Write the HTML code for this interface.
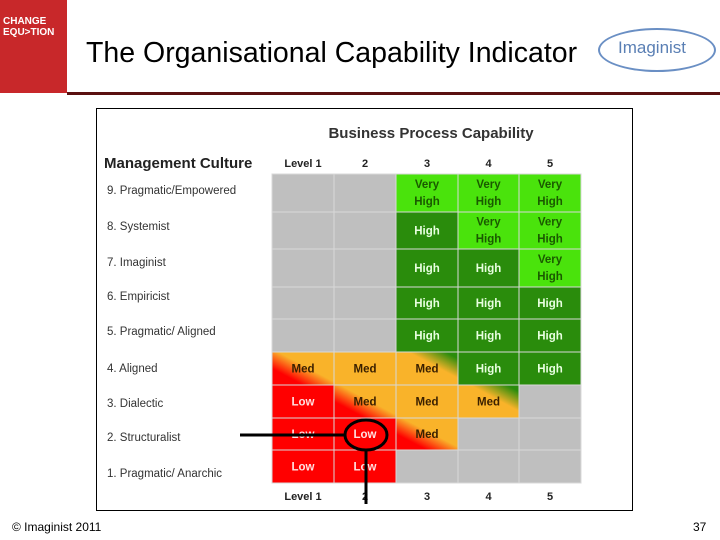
<!DOCTYPE html>
<html><head><meta charset="utf-8"><style>
body{margin:0;width:720px;height:540px;background:#fff;position:relative;overflow:hidden;font-family:"Liberation Sans",sans-serif}
.abs{position:absolute}
</style></head><body>
<div class="abs" style="left:0;top:0;width:67px;height:93px;background:#c8282a">
 <div class="abs" style="left:3px;top:16px;color:#fff;font-size:10px;line-height:11px;font-weight:bold">CHANGE<br>EQU&gt;TION</div>
</div>
<div class="abs" style="left:86px;top:37px;font-size:28.5px;color:#000">The Organisational Capability Indicator</div>
<div class="abs" style="left:598px;top:28px;width:118px;height:44px;border-radius:50%;border:2px solid #6a8fc4;box-sizing:border-box">
 <div class="abs" style="left:18px;top:8px;font-size:17px;color:#5a7fb4">Imaginist</div></div>
<div class="abs" style="left:67px;top:92px;width:653px;height:3px;background:#5a1010"></div>
<svg class="abs" style="left:0;top:0" width="720" height="540">
<defs>
<linearGradient id="rs" x1="0" y1="1" x2="1" y2="0"><stop offset="0.25" stop-color="#f00"/><stop offset="0.55" stop-color="#f9b32a"/></linearGradient>
<linearGradient id="og" x1="0" y1="1" x2="1" y2="0"><stop offset="0.6" stop-color="#f9b32a"/><stop offset="0.9" stop-color="#2a8c0c"/></linearGradient>
</defs>
<rect x="96.5" y="108.5" width="536" height="402" fill="#fff" stroke="#000"/>
<text x="431" y="138" text-anchor="middle" font-size="15" font-weight="bold" fill="#333">Business Process Capability</text>
<text x="104" y="168" font-size="15" font-weight="bold" fill="#222">Management Culture</text>
<g id="grid"></g>
<line x1="240" y1="435" x2="345" y2="435" stroke="#000" stroke-width="3"/>
<ellipse cx="366" cy="435" rx="21" ry="15" fill="none" stroke="#000" stroke-width="3"/>
<line x1="366" y1="450" x2="366" y2="504" stroke="#000" stroke-width="3"/>
</svg>
<div class="abs" style="left:12px;top:520px;font-size:12px">© Imaginist 2011</div>
<div class="abs" style="left:693px;top:520px;font-size:12px">37</div>
<script>
const levels=["Level 1","2","3","4","5"];
const cultures=["9. Pragmatic/Empowered","8. Systemist","7. Imaginist","6. Empiricist","5. Pragmatic/ Aligned","4. Aligned","3. Dialectic","2. Structuralist","1. Pragmatic/ Anarchic"];
const ratings=[
["","","VH","VH","VH"],
["","","H","VH","VH"],
["","","H","H","VH"],
["","","H","H","H"],
["","","H","H","H"],
["M~r","M","M~g","H","H"],
["L","M~r","M","M~g",""],
["L","L","M~r","",""],
["L","L","","",""]];
const colX=[272,334,396,458,519,581];
const rowY=[174,212,249,287,319,352,385,418,450,483];
const labelY=[194,230,266,300,335,372,407,441,477];
const NS="http://www.w3.org/2000/svg";
const g=document.getElementById('grid');
function mk(t,a){const e=document.createElementNS(NS,t);for(const k in a)e.setAttribute(k,a[k]);return e;}
const fills={"":"#bfbfbf","VH":"#4ae30c","H":"#2a8c0c","M":"#f9b32a","L":"#f00","M~r":"url(#rs)","M~g":"url(#og)"};
const labels={"VH":["Very","High"],"H":["High"],"M":["Med"],"M~r":["Med"],"M~g":["Med"],"L":["Low"]};
const tcol={"VH":"#1a5a00","H":"#e8ffe0","M":"#3a2000","M~r":"#3a2000","M~g":"#3a2000","L":"#ffe0e0"};
levels.forEach((l,i)=>{
 const cx=(colX[i]+colX[i+1])/2;
 [167,500].forEach(y=>{const t=mk('text',{x:cx,y:y,'text-anchor':'middle','font-size':11,'font-weight':'bold',fill:'#222'});t.textContent=l;
 
 
 g.appendChild(t);});
});
cultures.forEach((c,r)=>{
 const y0=rowY[r],y1=rowY[r+1];
 const t=mk('text',{x:107,y:labelY[r],'font-size':11.5,fill:'#333'});t.textContent=c;
 
 
 g.appendChild(t);
 ratings[r].forEach((v,ci)=>{
  const x0=colX[ci],x1=colX[ci+1];
  const rc=mk('rect',{x:x0,y:y0,width:x1-x0,height:y1-y0,fill:fills[v],stroke:'#d8d8d8','stroke-width':1});
  
  
  g.appendChild(rc);
  const lb=labels[v];
  if(lb){const cy=(y0+y1)/2;lb.forEach((s,k)=>{
   const tt=mk('text',{x:(x0+x1)/2,y:cy+4+(lb.length==2?(k?8:-9):0),'text-anchor':'middle','font-size':11.5,'font-weight':'bold',fill:tcol[v]});
   tt.textContent=s;
   
   
   g.appendChild(tt);});}
 });
});
</script>
</body></html>
